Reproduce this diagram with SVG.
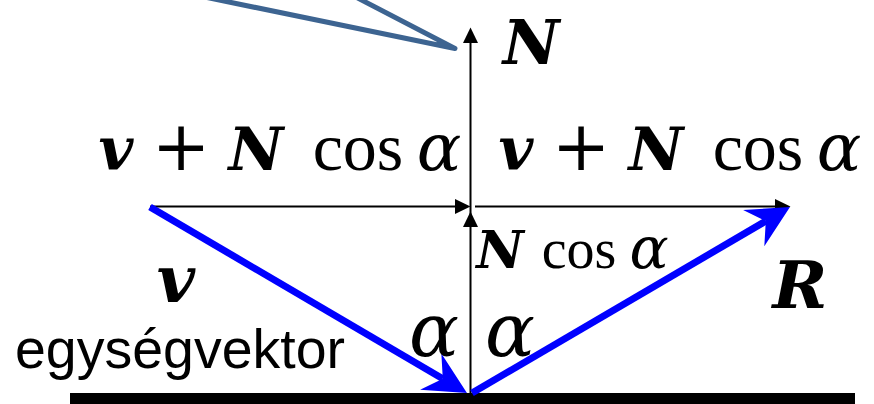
<svg xmlns="http://www.w3.org/2000/svg" width="874" height="404" viewBox="0 0 874 404">
<style>
.m{font-family:"DejaVu Serif",serif;fill:#000}
.t{font-family:"Liberation Serif","Times New Roman",serif;fill:#000}
.bi{font-weight:bold;font-style:italic}
.it{font-style:italic}
.c{text-anchor:middle}
.s{font-family:"Liberation Sans",Arial,sans-serif;fill:#000}
.blk{stroke:#000;stroke-width:2;fill:none}
.blu{stroke:#0000FF;stroke-width:7;fill:none}
</style>
<defs>
<marker id="ab" markerUnits="userSpaceOnUse" markerWidth="16" markerHeight="16" viewBox="0 -8 16 16" refX="0" refY="0" orient="auto" overflow="visible">
<path d="M0,-7.5 L15.5,0 L0,7.5 Z" fill="#000"/>
</marker>
<marker id="au" markerUnits="userSpaceOnUse" markerWidth="44" markerHeight="44" viewBox="-15 -22 44 44" refX="0" refY="0" orient="auto" overflow="visible">
<path d="M-14,-21 L28,0 L-14,21 L0,0 Z" fill="#0000FF"/>
</marker>
</defs>
<g id="surface"><rect x="70" y="393" width="785" height="11" fill="#000"/></g>
<g id="connectors">
<polyline id="ray" points="190,-6 455,48.5 350,-6" fill="none" stroke="#3D6491" stroke-width="5" stroke-linejoin="round" stroke-linecap="round"/>
<line id="normal" class="blk" x1="470.5" y1="393" x2="470.5" y2="43" marker-end="url(#ab)"/>
<path id="ncos-head" d="M463,227 L470.5,211.5 L478,227 Z" fill="#000"/>
<line id="sum-left" class="blk" x1="150" y1="206.5" x2="455" y2="206.5" marker-end="url(#ab)"/>
<line id="sum-right" class="blk" x1="475" y1="206.5" x2="775" y2="206.5" marker-end="url(#ab)"/>
<line id="vec-v" class="blu" x1="150" y1="207" x2="442.8" y2="378.8" marker-end="url(#au)"/>
<line id="vec-r" class="blu" x1="472" y1="393" x2="765.8" y2="221.1" marker-end="url(#au)"/>
</g>
<g id="label-N"><text class="m bi c" x="531" y="64" font-size="62">N</text></g>
<g id="label-sum-left">
<text class="m bi c" x="116" y="170" font-size="60">v</text>
<text class="m c" x="181" y="170" font-size="70">+</text>
<text class="m bi c" x="256" y="170" font-size="60">N</text>
<text class="t c" x="358" y="170" font-size="68">cos</text>
<text class="m it c" x="439" y="170" font-size="66">α</text>
</g>
<g id="label-sum-right">
<text class="m bi c" x="516" y="170" font-size="60">v</text>
<text class="m c" x="581" y="170" font-size="70">+</text>
<text class="m bi c" x="656" y="170" font-size="60">N</text>
<text class="t c" x="758" y="170" font-size="68">cos</text>
<text class="m it c" x="839" y="170" font-size="66">α</text>
</g>
<g id="label-ncos">
<text class="m bi c" x="500" y="268" font-size="52">N</text>
<text class="t c" x="579" y="268" font-size="56">cos</text>
<text class="m it c" x="649" y="268" font-size="58">α</text>
</g>
<g id="label-v">
<text class="m bi c" x="176" y="302" font-size="66">v</text>
<text class="s" x="15" y="368" font-size="55" textLength="330" lengthAdjust="spacingAndGlyphs">egységvektor</text>
</g>
<g id="label-alpha">
<text class="m it c" x="434" y="356" font-size="74">α</text>
<text class="m it c" x="510" y="356" font-size="74">α</text>
</g>
<g id="label-R"><text class="m bi c" x="800" y="308" font-size="66">R</text></g>
</svg>
